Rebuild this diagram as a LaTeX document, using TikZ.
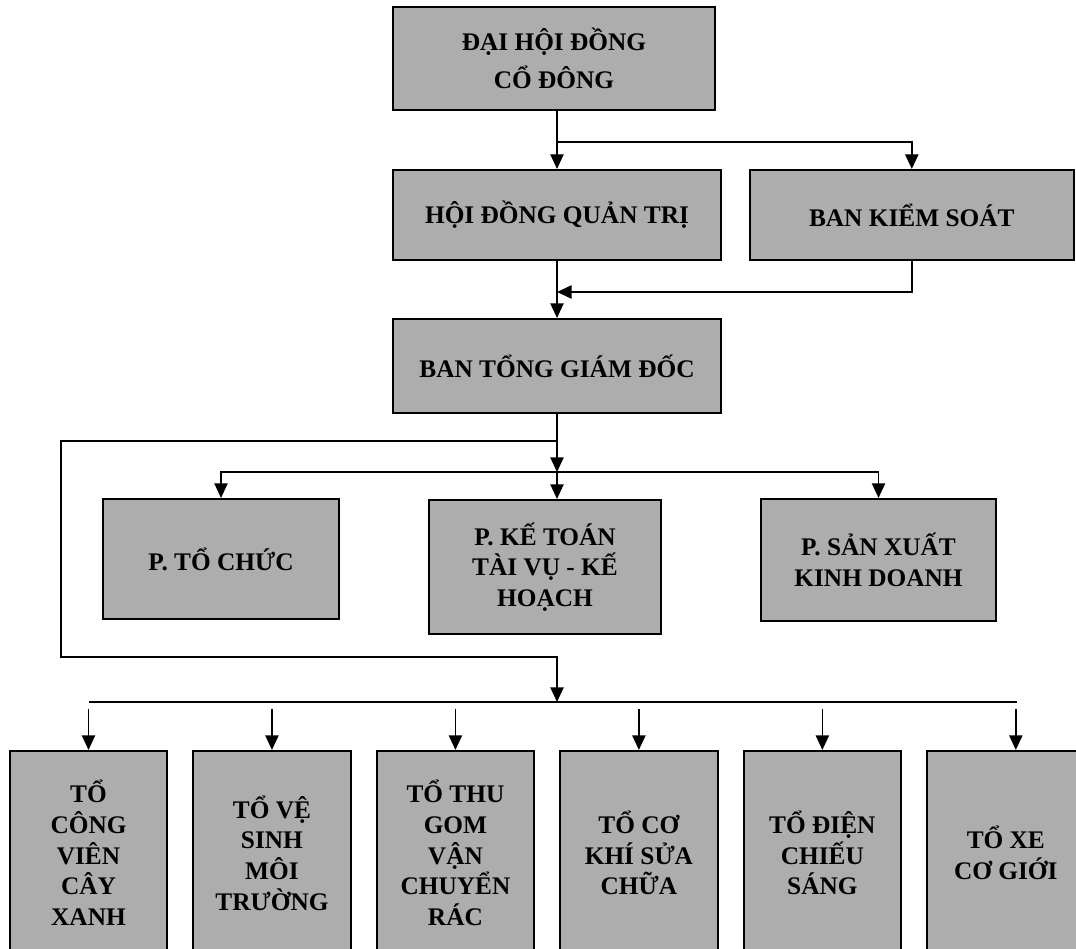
\documentclass[tikz,border=0pt]{standalone}
\usepackage{fontspec}
\setmainfont{Liberation Serif}
\usetikzlibrary{arrows.meta, positioning}

\begin{document}
\begin{tikzpicture}[
    x=0.75pt, y=-0.75pt,
    node distance=18pt,
    box/.style={rectangle, draw=black, line width=1.6pt, fill=black!32, align=center, inner sep=0pt, font=\fontsize{19}{23}\selectfont\bfseries},
    unit/.style={box, minimum width=118pt, minimum height=153pt},
    arrow/.style={-{Triangle[length=11pt, width=10pt]}, line width=1.1pt},
    wire/.style={line width=1.1pt}
]
\fill[white] (0,0) rectangle (1076,949);
\useasboundingbox (0,0) rectangle (1076,949);

% === Top: shareholders, board, supervisors ===
\node[box, minimum width=241.5pt, minimum height=77pt, font=\fontsize{19}{28.5}\selectfont\bfseries] (dhd) at (554,58.5) {ĐẠI HỘI ĐỒNG\\CỔ ĐÔNG};
\node[box, minimum width=246pt, minimum height=67.5pt] (hdqt) at (557,215) {HỘI ĐỒNG QUẢN TRỊ};
\node[box, minimum width=243pt, minimum height=67.5pt, right=20pt of hdqt] (bks) {BAN KIỂM SOÁT};
\node[box, minimum width=246pt, minimum height=70.5pt] (btgd) at (557,366) {BAN TỔNG GIÁM ĐỐC};

\coordinate (j1) at (557,142);
\coordinate (j2) at (557,292);
\draw[arrow] (dhd.south -| hdqt.north) -- (hdqt.north);
\draw[arrow] (j1) -| (bks.north);
\draw[arrow] (hdqt.south) -- (btgd.north);
\draw[arrow] (bks.south) |- (j2);

% === Departments ===
\node[box, minimum width=177pt, minimum height=90pt] (ptc) at (221,559) {P. TỔ CHỨC};
\node[box, minimum width=174pt, minimum height=100.5pt] (pkt) at (545,567) {P. KẾ TOÁN\\TÀI VỤ - KẾ\\HOẠCH};
\node[box, minimum width=176pt, minimum height=91.5pt] (psx) at (878.5,560) {P. SẢN XUẤT\\KINH DOANH};

\coordinate (j3) at (557,472);
\draw[arrow] (btgd.south) -- (j3);
\draw[arrow] (j3) -- (j3 |- pkt.north);
\draw[arrow] (j3) -| (ptc.north);
\draw[arrow] (j3) -| (psx.north);

% === Teams (bottom row) ===
\node[unit] (tcv) at (88.5,853) {TỔ\\CÔNG\\VIÊN\\CÂY\\XANH};
\node[unit, right=of tcv] (tvs) {TỔ VỆ\\SINH\\MÔI\\TRƯỜNG};
\node[unit, right=of tvs] (ttg) {TỔ THU\\GOM\\VẬN\\CHUYỂN\\RÁC};
\node[unit, right=of ttg] (tck) {TỔ CƠ\\KHÍ SỬA\\CHỮA};
\node[unit, right=of tck] (tdc) {TỔ ĐIỆN\\CHIẾU\\SÁNG};
\node[unit, right=of tdc] (txe) {TỔ XE\\CƠ GIỚI};

\coordinate (j4) at (557,441);
\coordinate (c1) at (61,441);
\coordinate (c2) at (61,657);
\coordinate (j5) at (557,702);
\draw[arrow] (j4) -- (c1) -- (c2) -| (j5);

\coordinate (bl) at (89,702);
\coordinate (br) at (1017,702);
\coordinate (stub) at (0,709);
\draw[wire] (bl) -- (br);
\foreach \u in {tcv,tvs,ttg,tck,tdc}
    \draw[arrow] (\u.north |- stub) -- (\u.north);
\draw[arrow] ([xshift=7.5pt]txe.north |- stub) -- ([xshift=7.5pt]txe.north);

\end{tikzpicture}
\end{document}
